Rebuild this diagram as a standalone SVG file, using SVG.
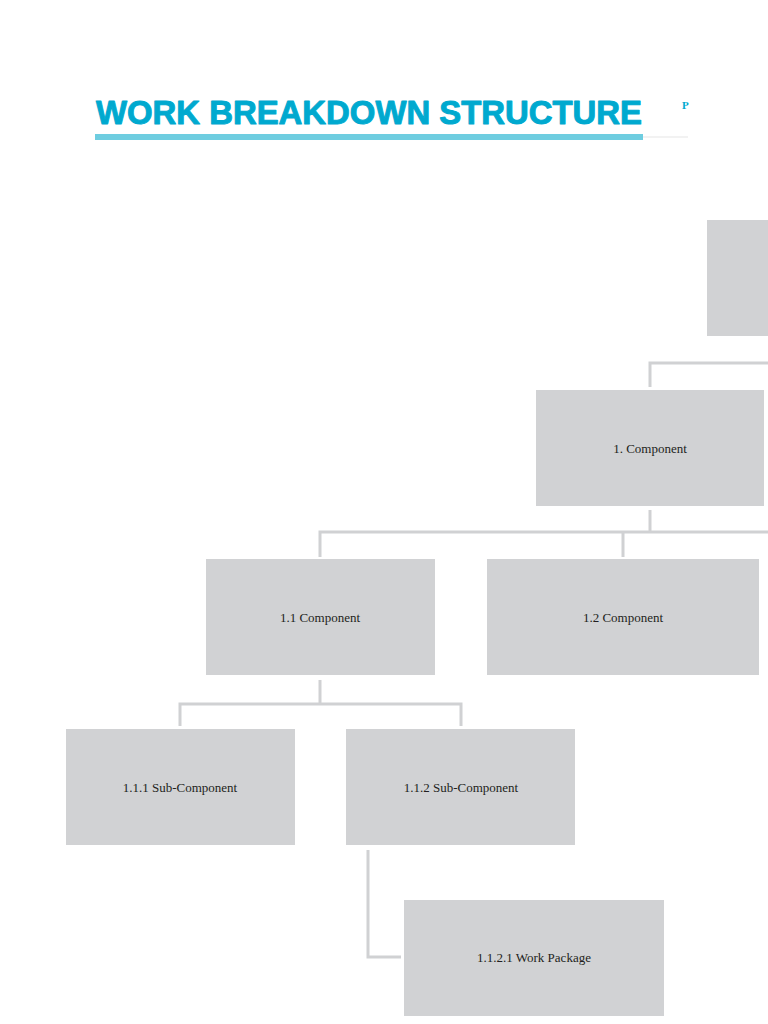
<svg xmlns="http://www.w3.org/2000/svg" width="768" height="1024" viewBox="0 0 768 1024">
<style>
.box{fill:#d1d2d4}
.lbl{font-family:"Liberation Serif","DejaVu Serif",serif;font-size:13px;fill:#231f20;text-anchor:middle;dominant-baseline:central}
.con{fill:none;stroke:#d0d1d3;stroke-width:3}
</style>
<rect width="768" height="1024" fill="#ffffff"/>
<g id="header">
<text x="96" y="124" font-family="Liberation Sans, Arial, sans-serif" font-weight="bold" font-size="33" fill="#00a9cf" stroke="#00a9cf" stroke-width="1" stroke-linejoin="round" textLength="546" lengthAdjust="spacingAndGlyphs">WORK BREAKDOWN STRUCTURE</text>
<rect x="95" y="134" width="548" height="6" fill="#6ecde0"/>
<line x1="643" y1="137" x2="688" y2="137" stroke="#eeeeee" stroke-width="1.5"/>
<text x="682" y="109" font-family="Liberation Serif, serif" font-weight="bold" font-size="11" fill="#00a9cf">P</text>
</g>
<g id="connectors">
<path class="con" d="M650 387 V363 H768"/>
<path class="con" d="M650 510 V532"/>
<path class="con" d="M320 557 V532 H768 M623 532 V557"/>
<path class="con" d="M320 680 V704"/>
<path class="con" d="M180 726 V704 H461 V726"/>
<path class="con" d="M368 850 V957 H401"/>
</g>
<g id="root"><rect class="box" x="707" y="220" width="61" height="116"/></g>
<g id="n1"><rect class="box" x="536" y="390" width="228" height="116"/><text class="lbl" x="650" y="448">1. Component</text></g>
<g id="n11"><rect class="box" x="206" y="559" width="229" height="116"/><text class="lbl" x="320" y="617">1.1 Component</text></g>
<g id="n12"><rect class="box" x="487" y="559" width="272" height="116"/><text class="lbl" x="623" y="617">1.2 Component</text></g>
<g id="n111"><rect class="box" x="66" y="729" width="229" height="116"/><text class="lbl" x="180" y="787">1.1.1 Sub-Component</text></g>
<g id="n112"><rect class="box" x="346" y="729" width="229" height="116"/><text class="lbl" x="461" y="787">1.1.2 Sub-Component</text></g>
<g id="n1121"><rect class="box" x="404" y="900" width="260" height="116"/><text class="lbl" x="534" y="957">1.1.2.1 Work Package</text></g>
</svg>
